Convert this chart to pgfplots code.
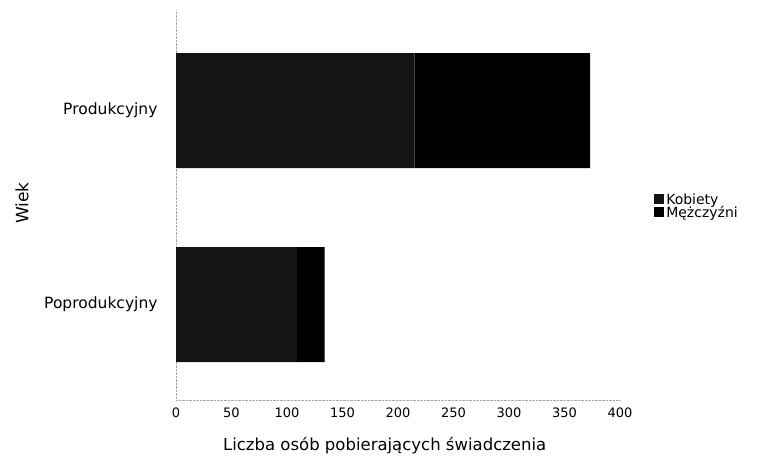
\documentclass[border=0pt]{standalone}
\usepackage{pgfplots}
\pgfplotsset{compat=1.18}
\usepackage{fontspec}
\setmainfont{DejaVu Sans}
\begin{document}
\begin{tikzpicture}
\useasboundingbox (0,0) rectangle (759pt,466pt);
\begin{axis}[
  at={(176pt,66pt)}, anchor=south west,
  scale only axis, width=444pt, height=390pt,
  xbar stacked, bar width=115pt,
  xmin=0, xmax=400, ymin=-0.492, ymax=1.518,
  xtick={0,50,...,400},
  ytick={0,1}, yticklabels={Poprodukcyjny,Produkcyjny},
  axis x line=bottom, axis y line=left,
  axis line style={-, gray!70, densely dotted},
  major tick length=0pt,
  xticklabel style={font=\fontsize{13}{14}\selectfont, yshift=-4pt},
  yticklabel style={font=\fontsize{15.5}{17}\selectfont, xshift=-15pt},
  /pgf/number format/assume math mode=true,
  xlabel={Liczba osób pobierających świadczenia},
  ylabel={Wiek},
  xlabel style={font=\fontsize{16.5}{18}\selectfont, at={(axis description cs:0.47,-0.118)}, anchor=center},
  ylabel style={font=\fontsize{17}{18}\selectfont, at={(axis description cs:-0.347,0.505)}, anchor=center},
  legend cell align=left,
  legend style={at={(1.07,0.54)}, anchor=north west, draw=none, fill=none,
    font=\fontsize{14}{15}\selectfont, row sep=-3pt,
    /tikz/every even column/.append style={column sep=2pt}},
  legend image code/.code={\fill[#1] (0pt,-4pt) rectangle (10pt,6pt);},
]
\addplot[fill=black!92, draw=none] coordinates {(109,0) (215,1)};
\addplot[fill=black, draw=none] coordinates {(25,0) (158,1)};
\legend{Kobiety, Mężczyźni}
\end{axis}
\end{tikzpicture}
\end{document}
